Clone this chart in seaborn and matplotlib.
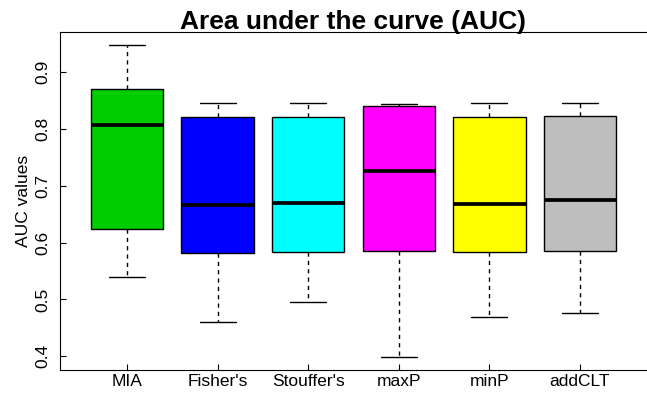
import numpy as np
import pandas as pd
import matplotlib
matplotlib.use('Agg')
import matplotlib.pyplot as plt
import seaborn as sns

# five-number summaries (min, q1, median, q3, max)
methods = ["MIA", "Fisher's", "Stouffer's", "maxP", "minP", "addCLT"]
mia = [0.540, 0.624, 0.807, 0.870, 0.948]
fisher = [0.461, 0.582, 0.666, 0.820, 0.846]
stouffer = [0.496, 0.584, 0.670, 0.820, 0.846]
maxp = [0.399, 0.586, 0.726, 0.840, 0.843]
minp = [0.469, 0.583, 0.668, 0.821, 0.846]
addclt = [0.477, 0.586, 0.674, 0.823, 0.846]
box_colors = ["#00CD00", "#0000FF", "#00FFFF", "#FF00FF", "#FFFF00", "#BEBEBE"]

rows = []
for name, vals in zip(methods, [mia, fisher, stouffer, maxp, minp, addclt]):
    for v in vals:
        rows.append({'method': name, 'auc': v})
df = pd.DataFrame(rows)

sns.set_style('white')
plt.rcParams['font.family'] = ['Liberation Sans', 'DejaVu Sans']
plt.rcParams['text.color'] = 'black'
plt.rcParams['axes.labelcolor'] = 'black'
plt.rcParams['xtick.color'] = 'black'
plt.rcParams['ytick.color'] = 'black'

fig = plt.figure(figsize=(6.47, 3.98), dpi=100)
ax = fig.add_axes([60 / 647, 1 - 370 / 398, 1 - 60 / 647, (370 - 32) / 398])

sns.boxplot(data=df, x='method', y='auc', hue='method', order=methods,
            palette=box_colors, saturation=1, legend=False, width=0.8,
            whis=(0, 100), linecolor='black', linewidth=1, ax=ax,
            medianprops=dict(linewidth=2.7, color='black'),
            whiskerprops=dict(linestyle=(0, (3, 3))))

ax.set_xlim(-0.74, 5.74)
ax.set_ylim(0.376, 0.970)
ax.set_yticks([0.4, 0.5, 0.6, 0.7, 0.8, 0.9])
ax.set_yticklabels(['0.4', '0.5', '0.6', '0.7', '0.8', '0.9'], rotation=90, va='center')
ax.tick_params(axis='both', direction='in', length=4, width=0.8, labelsize=12.5,
               bottom=True, left=True, colors='black')
ax.tick_params(axis='y', pad=7)
ax.tick_params(axis='x', pad=3)

for side in ['top', 'left', 'bottom']:
    ax.spines[side].set_color('black')
    ax.spines[side].set_linewidth(0.8)
ax.spines['right'].set_visible(False)

ax.set_xlabel('')
ax.set_ylabel('AUC values', fontsize=12.5, labelpad=3, color='black')
ax.set_title('Area under the curve (AUC)', fontsize=19, fontweight='bold', pad=2, color='black')

fig.savefig('out.png', dpi=100)
